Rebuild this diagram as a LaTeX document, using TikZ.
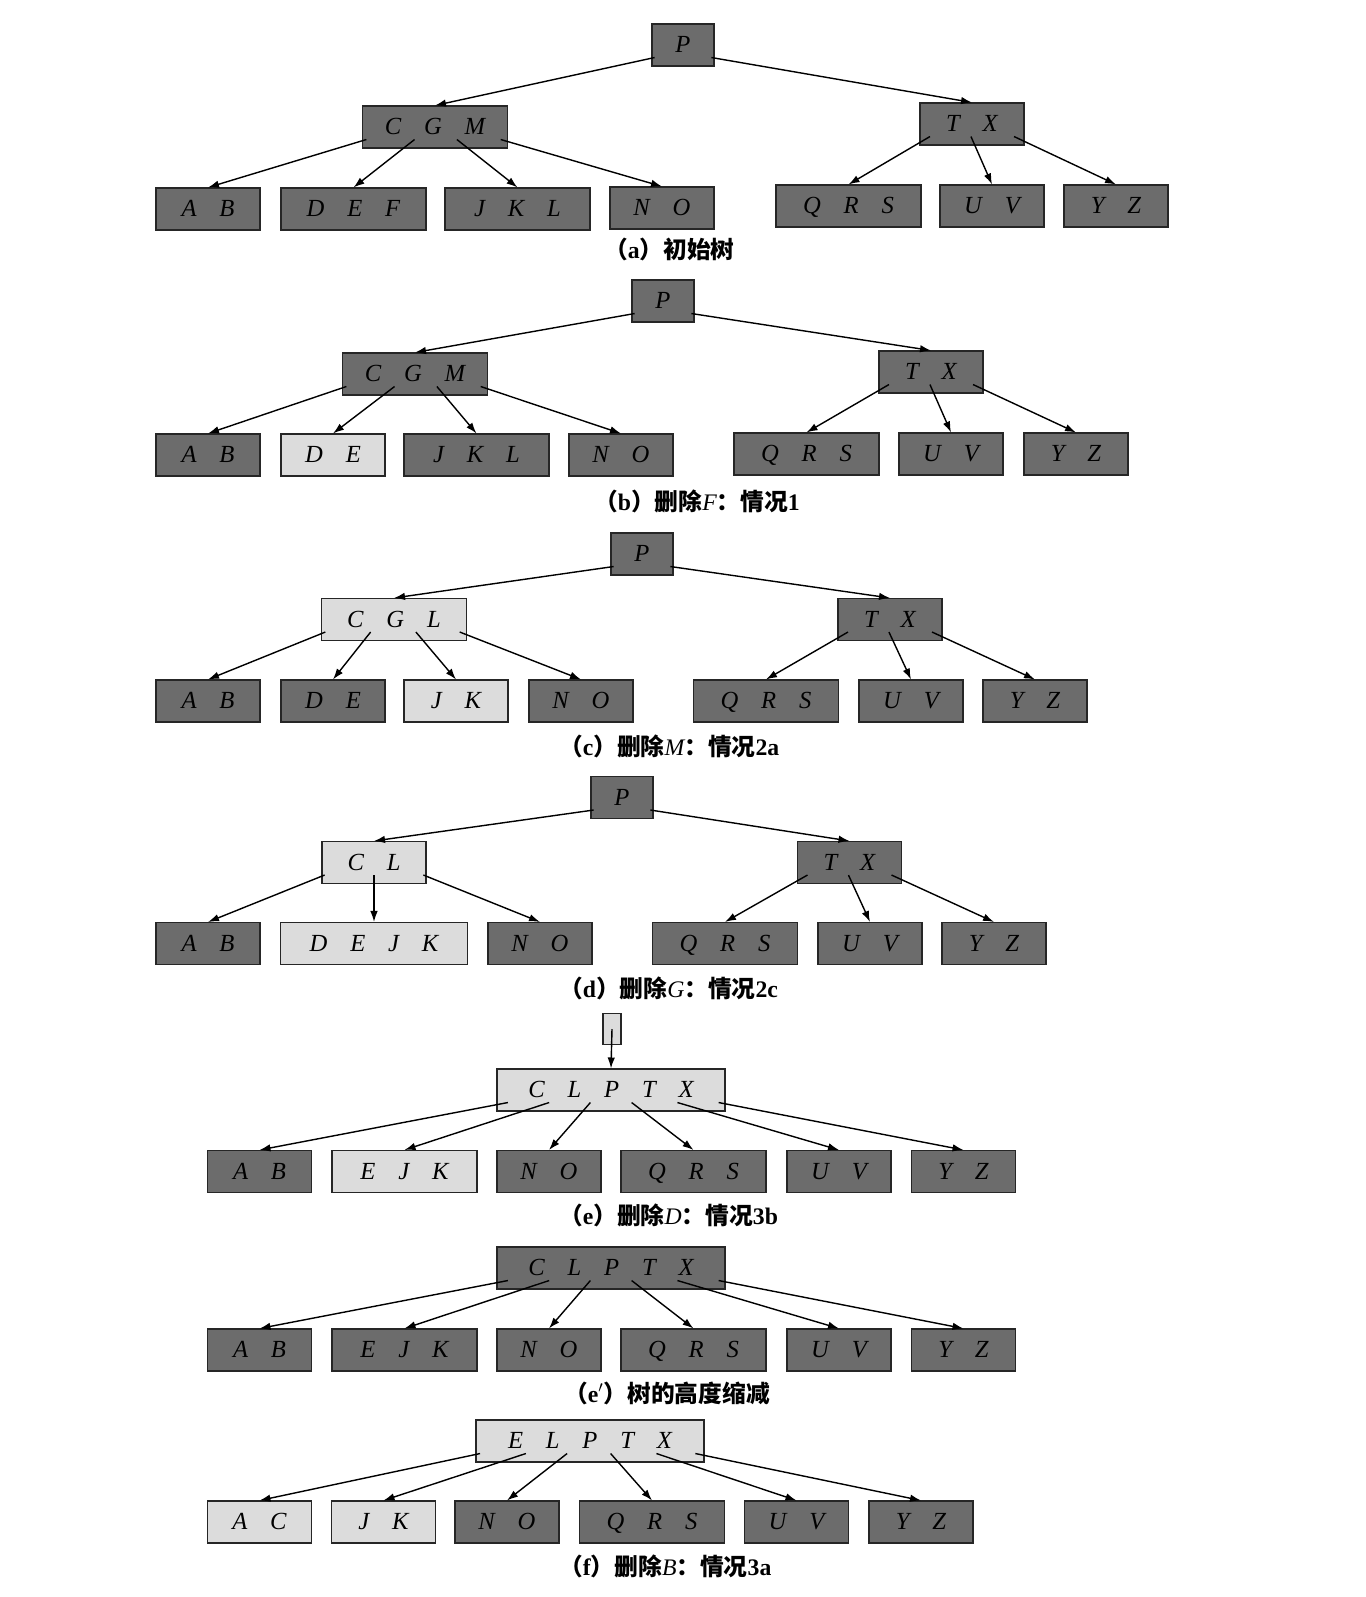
\documentclass[tikz,border=0pt]{standalone}
\usepackage{fontspec}
\setmainfont{Liberation Serif}
\newfontfamily\cjk{Noto Sans CJK SC}
\usetikzlibrary{calc}
\usetikzlibrary{arrows.meta}
\definecolor{darkfill}{RGB}{108,108,108}
\definecolor{lightfill}{RGB}{220,220,220}
\newcommand{\kgap}{\hspace{13pt}}
\newcommand{\ptr}[3]{\draw[ptr] ($(#1.south west)!#2!(#1.south east)+(0,-9)$) -- (#3.north);}
\newcommand{\vk}[1]{{\mdseries\itshape #1}}
\tikzset{
  bnode/.style={draw=black!85, line width=0.6pt, inner sep=0pt, minimum height=8.4mm,
    text height=9.5pt, text depth=0.5pt, font=\fontsize{14}{14}\selectfont\itshape},
  dark/.style={bnode, fill=darkfill},
  light/.style={bnode, fill=lightfill},
  w1/.style={minimum width=12.4mm},
  w2/.style={minimum width=20.8mm},
  w3/.style={minimum width=29mm},
  w4/.style={minimum width=37.4mm},
  w5/.style={minimum width=45.6mm},
  ptr/.style={-{Latex[length=2.2mm,width=1.5mm]}, line width=0.8pt},
  capt/.style={anchor=west, font=\fontsize{13.5}{14}\selectfont\bfseries}
}
\begin{document}
\begin{tikzpicture}[x=0.2mm,y=-0.2mm]
        \useasboundingbox (0,0) rectangle (1366,1597);
        % tree a
        \node[dark,w1] (aP) at (683,45) {P};
        \node[dark,w3] (aCGM) at (435,127) {C\kgap G\kgap M};
        \node[dark,w2] (aTX) at (972,124) {T\kgap X};
        \node[dark,w2] (aAB) at (208,209) {A\kgap B};
        \node[dark,w3] (aDEF) at (353.5,209) {D\kgap E\kgap F};
        \node[dark,w3] (aJKL) at (517.5,209) {J\kgap K\kgap L};
        \node[dark,w2] (aNO) at (662,208) {N\kgap O};
        \node[dark,w3] (aQRS) at (848.5,206) {Q\kgap R\kgap S};
        \node[dark,w2] (aUV) at (992,206) {U\kgap V};
        \node[dark,w2] (aYZ) at (1116,206) {Y\kgap Z};
        \ptr{aP}{0.05}{aCGM}
        \ptr{aP}{0.95}{aTX}
        \ptr{aCGM}{0.03}{aAB}
        \ptr{aCGM}{0.36}{aDEF}
        \ptr{aCGM}{0.65}{aJKL}
        \ptr{aCGM}{0.95}{aNO}
        \ptr{aTX}{0.1}{aQRS}
        \ptr{aTX}{0.49}{aUV}
        \ptr{aTX}{0.9}{aYZ}
        \node[capt] (capA) at (598,249) {{\cjk （}a{\cjk ）初始树}};
        % tree b
        \node[dark,w1] (bP) at (663,301) {P};
        \node[dark,w3] (bCGM) at (415,374) {C\kgap G\kgap M};
        \node[dark,w2] (bTX) at (931,372) {T\kgap X};
        \node[dark,w2] (bAB) at (208,455) {A\kgap B};
        \node[light,w2] (bDE) at (333,455) {D\kgap E};
        \node[dark,w3] (bJKL) at (476.5,455) {J\kgap K\kgap L};
        \node[dark,w2] (bNO) at (621,455) {N\kgap O};
        \node[dark,w3] (bQRS) at (806.5,454) {Q\kgap R\kgap S};
        \node[dark,w2] (bUV) at (951,454) {U\kgap V};
        \node[dark,w2] (bYZ) at (1076,454) {Y\kgap Z};
        \ptr{bP}{0.05}{bCGM}
        \ptr{bP}{0.95}{bTX}
        \ptr{bCGM}{0.03}{bAB}
        \ptr{bCGM}{0.36}{bDE}
        \ptr{bCGM}{0.65}{bJKL}
        \ptr{bCGM}{0.95}{bNO}
        \ptr{bTX}{0.1}{bQRS}
        \ptr{bTX}{0.49}{bUV}
        \ptr{bTX}{0.9}{bYZ}
        \node[capt] (capB) at (588,501) {{\cjk （}b{\cjk ）删除}\vk{F}{\cjk ：情况}1};
        % tree c
        \node[dark,w1] (cP) at (642,554) {P};
        \node[light,w3] (cCGL) at (394,619.5) {C\kgap G\kgap L};
        \node[dark,w2] (cTX) at (890,619.5) {T\kgap X};
        \node[dark,w2] (cAB) at (208,701) {A\kgap B};
        \node[dark,w2] (cDE) at (333,701) {D\kgap E};
        \node[light,w2] (cJK) at (456,701) {J\kgap K};
        \node[dark,w2] (cNO) at (581,701) {N\kgap O};
        \node[dark,w3] (cQRS) at (766,701) {Q\kgap R\kgap S};
        \node[dark,w2] (cUV) at (911,701) {U\kgap V};
        \node[dark,w2] (cYZ) at (1035,701) {Y\kgap Z};
        \ptr{cP}{0.05}{cCGL}
        \ptr{cP}{0.95}{cTX}
        \ptr{cCGL}{0.03}{cAB}
        \ptr{cCGL}{0.34}{cDE}
        \ptr{cCGL}{0.65}{cJK}
        \ptr{cCGL}{0.95}{cNO}
        \ptr{cTX}{0.1}{cQRS}
        \ptr{cTX}{0.49}{cUV}
        \ptr{cTX}{0.9}{cYZ}
        \node[capt] (capC) at (553,746) {{\cjk （}c{\cjk ）删除}\vk{M}{\cjk ：情况}2a};
        % tree d
        \node[dark,w1] (dP) at (622,797.5) {P};
        \node[light,w2] (dCL) at (374,862.5) {C\kgap L};
        \node[dark,w2] (dTX) at (849.5,862.5) {T\kgap X};
        \node[dark,w2] (dAB) at (208,943.5) {A\kgap B};
        \node[light,w4] (dDEJK) at (374,943.5) {D\kgap E\kgap J\kgap K};
        \node[dark,w2] (dNO) at (540,943.5) {N\kgap O};
        \node[dark,w3] (dQRS) at (725,943.5) {Q\kgap R\kgap S};
        \node[dark,w2] (dUV) at (870,943.5) {U\kgap V};
        \node[dark,w2] (dYZ) at (994,943.5) {Y\kgap Z};
        \ptr{dP}{0.05}{dCL}
        \ptr{dP}{0.95}{dTX}
        \ptr{dCL}{0.03}{dAB}
        \ptr{dCL}{0.5}{dDEJK}
        \ptr{dCL}{0.97}{dNO}
        \ptr{dTX}{0.1}{dQRS}
        \ptr{dTX}{0.49}{dUV}
        \ptr{dTX}{0.9}{dYZ}
        \node[capt] (capD) at (553,988) {{\cjk （}d{\cjk ）删除}\vk{G}{\cjk ：情况}2c};
        % tree e
        \node[light,minimum width=3.6mm,minimum height=6.2mm] (eRoot) at (612,1029) {};
        \node[light,w5] (eCLPTX) at (611,1090) {C\kgap L\kgap P\kgap T\kgap X};
        \node[dark,w2] (eAB) at (259.5,1171.5) {A\kgap B};
        \node[light,w3] (eEJK) at (404.5,1171.5) {E\kgap J\kgap K};
        \node[dark,w2] (eNO) at (549,1171.5) {N\kgap O};
        \node[dark,w3] (eQRS) at (693.5,1171.5) {Q\kgap R\kgap S};
        \node[dark,w2] (eUV) at (839,1171.5) {U\kgap V};
        \node[dark,w2] (eYZ) at (963.5,1171.5) {Y\kgap Z};
        \draw[ptr] (eRoot.center) -- (eCLPTX.north);
        \ptr{eCLPTX}{0.05}{eAB}
        \ptr{eCLPTX}{0.23}{eEJK}
        \ptr{eCLPTX}{0.41}{eNO}
        \ptr{eCLPTX}{0.59}{eQRS}
        \ptr{eCLPTX}{0.79}{eUV}
        \ptr{eCLPTX}{0.97}{eYZ}
        \node[capt] (capE) at (553,1215) {{\cjk （}e{\cjk ）删除}\vk{D}{\cjk ：情况}3b};
        % tree e'
        \node[dark,w5] (epCLPTX) at (611,1268) {C\kgap L\kgap P\kgap T\kgap X};
        \node[dark,w2] (epAB) at (259.5,1350) {A\kgap B};
        \node[dark,w3] (epEJK) at (404.5,1350) {E\kgap J\kgap K};
        \node[dark,w2] (epNO) at (549,1350) {N\kgap O};
        \node[dark,w3] (epQRS) at (693.5,1350) {Q\kgap R\kgap S};
        \node[dark,w2] (epUV) at (839,1350) {U\kgap V};
        \node[dark,w2] (epYZ) at (963.5,1350) {Y\kgap Z};
        \ptr{epCLPTX}{0.05}{epAB}
        \ptr{epCLPTX}{0.23}{epEJK}
        \ptr{epCLPTX}{0.41}{epNO}
        \ptr{epCLPTX}{0.59}{epQRS}
        \ptr{epCLPTX}{0.79}{epUV}
        \ptr{epCLPTX}{0.97}{epYZ}
        \node[capt] (capEp) at (558,1393) {{\cjk （}e$'${\cjk ）树的高度缩减}};
        % tree f
        \node[light,w5] (fELPTX) at (590,1441) {E\kgap L\kgap P\kgap T\kgap X};
        \node[light,w2] (fAC) at (259.5,1522) {A\kgap C};
        \node[light,w2] (fJK) at (383.5,1522) {J\kgap K};
        \node[dark,w2] (fNO) at (507,1522) {N\kgap O};
        \node[dark,w3] (fQRS) at (652,1522) {Q\kgap R\kgap S};
        \node[dark,w2] (fUV) at (796.5,1522) {U\kgap V};
        \node[dark,w2] (fYZ) at (921,1522) {Y\kgap Z};
        \ptr{fELPTX}{0.02}{fAC}
        \ptr{fELPTX}{0.22}{fJK}
        \ptr{fELPTX}{0.40}{fNO}
        \ptr{fELPTX}{0.59}{fQRS}
        \ptr{fELPTX}{0.79}{fUV}
        \ptr{fELPTX}{0.96}{fYZ}
        \node[capt] (capF) at (553,1566) {{\cjk （}f{\cjk ）删除}\vk{B}{\cjk ：情况}3a};
\end{tikzpicture}
\end{document}
